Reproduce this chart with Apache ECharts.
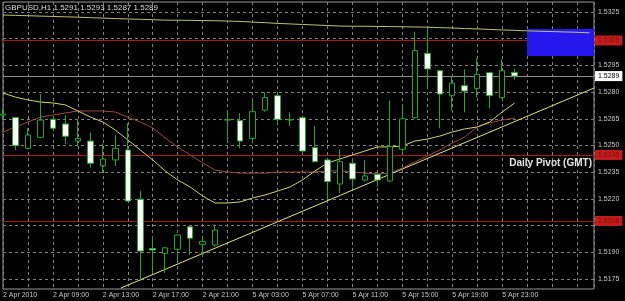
<!DOCTYPE html>
<html><head><meta charset="utf-8">
<script src="https://cdn.jsdelivr.net/npm/echarts@6/dist/echarts.min.js"></script>
<style>html,body{margin:0;padding:0;background:#000;}#c{width:625px;height:301px;}</style>
</head><body><div id="c"></div>
<script>
// ---------- data ----------
const titleText = 'GBPUSD,H1 1.5291 1.5293 1.5287 1.5289';
const tickLabels = ['2 Apr 2010','2 Apr 09:00','2 Apr 13:00','2 Apr 17:00','2 Apr 21:00','5 Apr 03:00','5 Apr 07:00','5 Apr 11:00','5 Apr 15:00','5 Apr 19:00','5 Apr 23:00'];
const open  = [1.52671,1.52657,1.52484,1.52546,1.52647,1.52621,1.52525,1.52525,1.52386,1.52419,1.52475,1.52198,1.51921,1.51894,1.51917,1.52043,1.51945,1.51941,1.52643,1.52640,1.52540,1.52699,1.52780,1.52643,1.52656,1.52488,1.52419,1.52284,1.52400,1.52306,1.52338,1.52301,1.52479,1.52656,1.53018,1.52920,1.52780,1.52836,1.52821,1.52909,1.52769,1.5291];
const high  = [1.52711,1.52660,1.52597,1.52789,1.52650,1.52670,1.52648,1.52572,1.52512,1.52559,1.52625,1.52244,1.51987,1.51928,1.52000,1.52048,1.51987,1.52057,1.52699,1.52681,1.52760,1.52799,1.52784,1.52686,1.52667,1.52610,1.52420,1.52479,1.52428,1.52419,1.52350,1.52752,1.52728,1.53139,1.53158,1.52925,1.52887,1.52928,1.52990,1.52912,1.52984,1.5293];
const low   = [1.52643,1.52475,1.52477,1.52543,1.52595,1.52508,1.52493,1.52376,1.52344,1.52385,1.52185,1.51740,1.51785,1.51782,1.51847,1.51885,1.51875,1.51931,1.52521,1.52484,1.52512,1.52690,1.52619,1.52610,1.52463,1.52406,1.52194,1.52232,1.52265,1.52297,1.52269,1.52295,1.52465,1.52650,1.52830,1.52597,1.52699,1.52686,1.52770,1.52709,1.52765,1.5287];
const close = [1.52677,1.52499,1.52559,1.52643,1.52597,1.52552,1.52540,1.52400,1.52424,1.52484,1.52188,1.51907,1.51913,1.51925,1.51997,1.51979,1.51960,1.52025,1.52645,1.52525,1.52690,1.52769,1.52647,1.52645,1.52469,1.52409,1.52297,1.52409,1.52312,1.52329,1.52306,1.52494,1.52650,1.53033,1.52930,1.52789,1.52850,1.52806,1.52900,1.52780,1.52920,1.5289];
const maFast = [1.52795,1.52772,1.52756,1.52744,1.52739,1.52728,1.52694,1.52660,1.52632,1.52587,1.52531,1.52475,1.52419,1.52357,1.52306,1.52267,1.52216,1.52177,1.52177,1.52183,1.52205,1.52222,1.52244,1.52267,1.52306,1.52357,1.52402,1.52424,1.52447,1.52469,1.52492,1.52492,1.52497,1.52525,1.52536,1.52553,1.52576,1.52593,1.52604,1.52632,1.52688,1.52739];
const maSlow = [1.52576,1.52604,1.52632,1.52660,1.52671,1.52683,1.52694,1.52694,1.52694,1.52688,1.52660,1.52632,1.52599,1.52542,1.52492,1.52447,1.52402,1.52362,1.52351,1.52345,1.52345,1.52345,1.52351,1.52351,1.52351,1.52351,1.52357,1.52357,1.52351,1.52345,1.52340,1.52345,1.52374,1.52407,1.52441,1.52475,1.52514,1.52548,1.52604,1.52627,1.52643,1.52654];
const maLong = [1.53233,1.53231,1.53229,1.53227,1.53225,1.53223,1.53221,1.53218,1.53216,1.53213,1.53211,1.53209,1.53207,1.53204,1.53204,1.53203,1.53202,1.53201,1.53199,1.53197,1.53193,1.53190,1.53186,1.53183,1.53180,1.53177,1.53174,1.53171,1.53170,1.53170,1.53169,1.53168,1.53167,1.53166,1.53165,1.53162,1.53160,1.53157,1.53155,1.53152,1.53149,1.53147,1.53144,1.53142,1.53140,1.53138,1.53136,1.53133];
const trendX = [9.44, 47.36];
const trendY = [1.51699, 1.52823];
const pivotLevels = [1.5309, 1.52447, 1.52076];
const priceTicks = [1.5175,1.5190,1.5205,1.5220,1.5235,1.5250,1.5265,1.5280,1.5295,1.5310,1.5325];
const priceLabels = [1.5175,1.5190,1.5220,1.5235,1.5250,1.5265,1.5280,1.5295,1.5325];
const zoneX = [42, 47.36];
const zoneY = [1.53154, 1.53003];
const lastPrice = 1.5289;
const xMax = 47.36;

// ---------- chart ----------
const FONT = 'Liberation Sans';
const chart = echarts.init(document.getElementById('c'), null, {renderer:'canvas'});
const candleData = open.map((o,i)=>[i, o, close[i], low[i], high[i]]);
const gridLines = priceTicks.map(v => ({yAxis: v, lineStyle:{color:'#808080', type:[3,3], width:1}, label:{show:false}}));
const levelLines = pivotLevels.map(v => ({yAxis: v, lineStyle:{color:'#a81a1a', type:'solid', width:1},
  label:{show:true, position:'end', distance:1, formatter: v.toFixed(4), color:'#7a1010', backgroundColor:'#c41c1c', padding:[2,3,1,3], fontSize:7, fontFamily:FONT}}));
levelLines.push({yAxis: lastPrice, lineStyle:{color:'#8c8c8c', type:'solid', width:1},
  label:{show:true, position:'end', distance:1, formatter: lastPrice.toFixed(4), color:'#000', backgroundColor:'#fff', padding:[2,3,1,3], fontSize:7, fontFamily:FONT}});

chart.setOption({
  backgroundColor:'#000',
  animation:false,
  grid:{left:2, top:2, width:592, height:287, show:true, borderColor:'#9a9a9a', borderWidth:1, backgroundColor:'#000'},
  xAxis:{type:'value', min:0, max:xMax, interval:2,
    axisLine:{show:false}, axisTick:{show:false},
    splitLine:{show:true, lineStyle:{color:'#808080', type:[3,3], width:1}},
    axisLabel:{show:true, fontSize:7, fontFamily:FONT, color:'#c8c8c8', margin:3, align:'left',
      showMaxLabel:false,
      formatter:(v)=>{ if (Math.abs(v%4)>1e-6) return ''; const j=Math.round(v/4); return tickLabels[j]||''; }}
  },
  yAxis:{type:'value', position:'right', min:1.516938, max:1.533062,
    axisLine:{show:false}, splitLine:{show:false},
    axisTick:{show:false},
    axisLabel:{customValues:priceLabels, fontSize:7, fontFamily:FONT, color:'#c8c8c8', margin:4, formatter:(v)=>v.toFixed(4)}
  },
  graphic:[
    {type:'text', left:5, top:4, z:100, style:{text:titleText, fill:'#dcdcdc', font:'8px '+FONT}},
    {type:'text', right:33, top:158, z:100, style:{text:'Daily Pivot (GMT)', fill:'#e6e6e6', font:'bold 10px '+FONT}}
  ],
  series:[
    {type:'line', name:'grid', data:[], z:1, silent:true,
      markLine:{z:1, silent:true, precision:6, symbol:['none','none'], animation:false, data:gridLines}},
    {type:'line', name:'levels', data:[], z:2, silent:true,
      markLine:{z:2, silent:true, precision:6, symbol:['none','none'], animation:false, data:levelLines}},
    {type:'line', name:'zone', data:[], z:3, silent:true,
      markArea:{z:3, silent:true, itemStyle:{color:'#2418ee'}, data:[[{coord:[zoneX[0], zoneY[0]]},{coord:[zoneX[1], zoneY[1]]}]]}},
    {type:'line', name:'MA long', data:maLong.map((v,i)=>[i,v]), showSymbol:false, z:4,
      lineStyle:{color:'#c2c070', width:1}},
    {type:'line', name:'Trend', data:trendX.map((x,i)=>[x, trendY[i]]), showSymbol:false, z:4,
      lineStyle:{color:'#e4e47c', width:1}},
    {type:'line', name:'MA slow', data:maSlow.map((v,i)=>[i,v]), showSymbol:false, z:4,
      lineStyle:{color:'#9c4a3e', width:1}},
    {type:'line', name:'MA fast', data:maFast.map((v,i)=>[i,v]), showSymbol:false, z:4,
      lineStyle:{color:'#d6d26c', width:1}},
    {type:'candlestick', name:'GBPUSD', data:candleData, encode:{x:0, y:[1,2,3,4]}, barWidth:6, z:5,
      itemStyle:{color:'#000000', color0:'#ffffff', borderColor:'#22a822', borderColor0:'#22a822', borderWidth:1}}
  ]
});
</script></body></html>
